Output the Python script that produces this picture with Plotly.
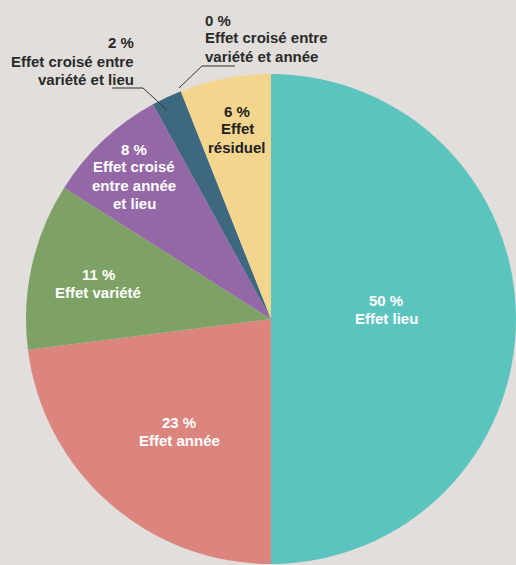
import plotly.graph_objects as go

labels = ["Effet lieu", "Effet année", "Effet variété", "Effet croisé entre année et lieu",
          "Effet croisé entre variété et lieu", "Effet croisé entre variété et année", "Effet résiduel"]
values = [50, 23, 11, 8, 2, 0, 6]
colors = ["#5cc4bf", "#dc857e", "#7ea165", "#9467a6", "#3d6880", "#3d6880", "#f4d58d"]

W, H = 516, 565
BG = "#e1dedb"
FONT = "Liberation Sans, Arial, sans-serif"

fig = go.Figure(go.Pie(
    labels=labels, values=values, sort=False, direction="clockwise", rotation=0,
    marker=dict(colors=colors, line=dict(width=0)),
    textinfo="none", hoverinfo="label+percent", showlegend=False,
    domain=dict(x=[26 / W, 1], y=[0, 492 / H]),
))

# label blocks: (lines, x, first line center y, align, color)
blocks = [
    (["50 %", "Effet lieu"], 386, 299, "center", "white"),
    (["23 %", "Effet année"], 179, 421, "center", "white"),
    (["11 %", "Effet variété"], 98, 273, "center", "white"),
    (["8 %", "Effet croisé", "entre année", "et lieu"], 134, 148, "center", "white"),
    (["6 %", "Effet", "résiduel"], 237, 110, "center", "#222222"),
    (["2 %", "Effet croisé entre", "variété et lieu"], 136, 42, "right", "#2a2a2a"),
    (["0 %", "Effet croisé entre", "variété et année"], 203, 19, "left", "#2a2a2a"),
]
LS = 18
ann = []
for lines, x, y0, align, col in blocks:
    for i, t in enumerate(lines):
        ann.append(dict(
            text="<b>" + t + "</b>", x=x / W, y=1 - (y0 + i * LS + 1) / H,
            xref="paper", yref="paper", showarrow=False,
            xanchor=align, yanchor="middle",
            font=dict(family=FONT, size=15, color=col),
        ))

shapes = []
for pts in [[(112, 88), (143, 88), (167, 110)], [(235, 66), (202, 66), (179, 88)]]:
    path = "M " + " L ".join(f"{px / W},{1 - py / H}" for px, py in pts)
    shapes.append(dict(type="path", path=path, xref="paper", yref="paper",
                       line=dict(color="#333333", width=1)))

fig.update_layout(
    width=W, height=H, margin=dict(l=0, r=0, t=0, b=0),
    paper_bgcolor=BG, plot_bgcolor=BG,
    annotations=ann, shapes=shapes,
)
fig.write_html("out.html")
